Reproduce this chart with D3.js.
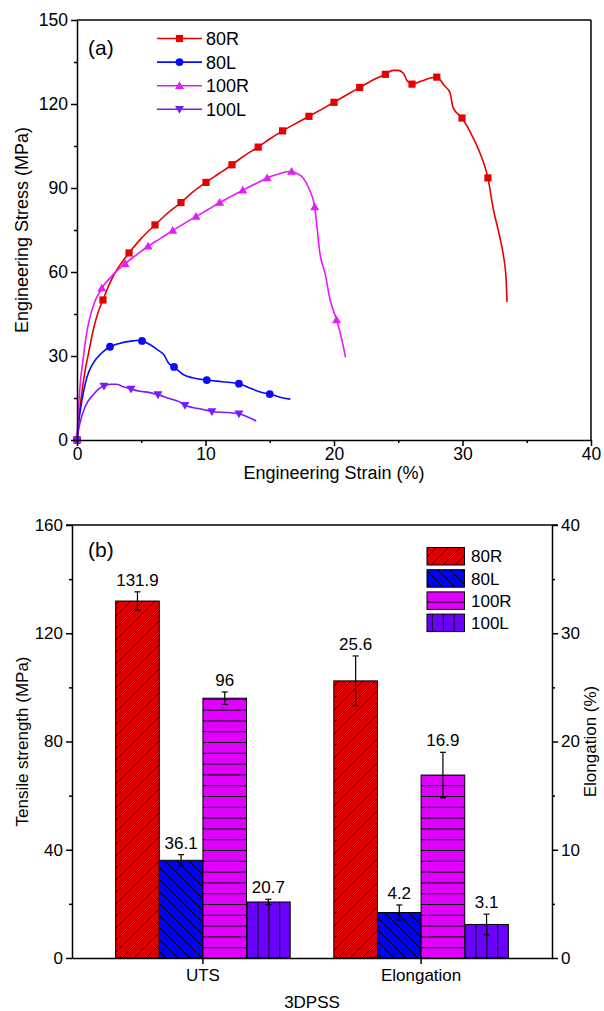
<!DOCTYPE html>
<html><head><meta charset="utf-8">
<script src="https://cdn.jsdelivr.net/npm/d3@7/dist/d3.min.js"></script>
<style>
body{margin:0;background:#fff;}
svg text{font-family:"Liberation Sans",Arial,Helvetica,sans-serif;fill:#000;}
</style></head>
<body>
<svg id="chart" width="604" height="1011"></svg>
<script>
// ---------- Data: panel (a) stress-strain curves [strain %, stress MPa] ----------
const seriesNames = ["80R", "80L", "100R", "100L"];
const curve80R = [[0,0],[0.15,8],[0.35,16],[0.6,24],[0.9,31],[1.25,39],[1.6,45],[2.02,50],[2.5,55.5],[3.0,60],[3.5,63.5],[4.05,66.8],[5.0,72],[6.07,76.8],[7.0,80.8],[8.09,84.8],[9.0,88.5],[10.04,92],[11.0,95],[12.06,98.3],[13.0,101.5],[14.1,104.6],[15.0,107.5],[16.0,110.4],[17.0,113],[18.05,115.6],[19.0,118],[20.0,120.6],[21.0,123.3],[22.0,125.9],[23.0,128.5],[24.0,130.6],[24.6,132],[25.0,132],[25.4,131],[25.7,128.2],[26.07,127.1],[26.8,128.2],[27.5,129.3],[28.0,129.6],[28.6,126.5],[29.03,124],[29.26,118.8],[29.96,115],[30.8,108.2],[31.36,102.5],[31.98,93.6],[32.37,83.2],[32.9,72.5],[33.15,66.8],[33.4,57],[33.46,49.3]];
const markers80R = [[0,0],[2.02,50],[4.05,66.8],[6.07,76.8],[8.09,84.8],[10.04,92],[12.06,98.3],[14.1,104.6],[16.0,110.4],[18.05,115.6],[20.0,120.6],[22.0,125.9],[24.0,130.6],[26.07,127.1],[28.0,129.6],[29.96,115],[31.98,93.6]];
const curve80L = [[0,0],[0.15,7],[0.39,14.3],[0.78,22.5],[1.25,27.4],[1.9,31],[2.57,33.3],[3.3,34.5],[4.2,35.3],[4.9,35.6],[5.06,35.4],[5.7,34],[6.3,32.1],[6.8,30.2],[7.1,27.6],[7.55,26.1],[8.25,23.4],[9.0,22.2],[10.1,21.4],[11.3,20.8],[12.6,20.1],[13.5,18.5],[14.2,17.2],[15.0,16.4],[15.8,15.3],[16.6,14.6]];
const markers80L = [[0,0],[2.57,33.3],[5.06,35.4],[7.55,26.1],[10.1,21.4],[12.6,20.1],[15.0,16.4]];
const curve100R = [[0,0],[0.1,10],[0.25,20],[0.45,28],[0.78,39],[1.2,47],[1.93,54.2],[2.8,59],[3.74,63],[4.6,66],[5.53,69.2],[6.5,72],[7.45,74.8],[8.3,77.2],[9.26,79.8],[10.2,82.3],[11.1,84.8],[12.0,87],[12.9,89.2],[13.9,91.5],[14.8,93.6],[15.7,95],[16.3,95.8],[16.7,95.9],[17.2,95],[17.6,93.6],[18.1,89.3],[18.5,83.2],[18.7,75],[18.9,66.8],[19.3,59.6],[19.7,50],[20.2,42.9],[20.6,36],[20.9,29.5]];
const markers100R = [[0,0],[1.93,54.2],[3.74,63],[5.53,69.2],[7.45,74.8],[9.26,79.8],[11.1,84.8],[12.9,89.2],[14.8,93.6],[16.7,95.9],[18.5,83.2],[20.2,42.9]];
const curve100L = [[0,0],[0.1,3],[0.23,6],[0.62,11.8],[1.25,16.1],[1.7,18.3],[2.1,19.3],[2.6,19.9],[3.1,19.9],[3.6,19],[4.2,18.2],[4.9,17.4],[5.6,17],[6.3,16.2],[7.2,14.8],[7.9,13.8],[8.4,12.4],[9.0,11.6],[9.7,11],[10.5,10.2],[11.7,9.8],[12.6,9.4],[13.2,8.4],[13.95,6.8]];
const markers100L = [[0,0],[2.1,19.3],[4.2,18.2],[6.3,16.2],[8.4,12.4],[10.5,10.2],[12.6,9.4]];
const strainTicks = [0,10,20,30,40];
const stressTicks = [0,30,60,90,120,150];

// ---------- Data: panel (b) bars ----------
const categories = ["UTS", "Elongation"];
const utsValues = [131.9, 36.1, 96, 20.7];
const utsErrors = [3.4, 2.1, 2.3, 1.0];
const elongValues = [25.6, 4.2, 16.9, 3.1];
const elongErrors = [2.3, 0.7, 2.1, 0.95];
const strengthTicks = [0,40,80,120,160];
const elongTicks = [0,10,20,30,40];

// ---------- Styles ----------
const lineColors = {"80R":"#e60000","80L":"#0a0aff","100R":"#e619ff","100L":"#7a1aff"};
const barColors = {"80R":"#dd0000","80L":"#0000ff","100R":"#e000ff","100L":"#6c00ff"};

const svg = d3.select("#chart");

// ====================== PANEL (a) ======================
const ax = {l:77, r:591, t:20, b:440};
const xA = d3.scaleLinear().domain([0,40]).range([ax.l, ax.r]);
const yA = d3.scaleLinear().domain([0,150]).range([ax.b, ax.t]);
const gA = svg.append("g");

const curves = [
  {name:"80R", curve:curve80R, markers:markers80R},
  {name:"80L", curve:curve80L, markers:markers80L},
  {name:"100R", curve:curve100R, markers:markers100R},
  {name:"100L", curve:curve100L, markers:markers100L}
];
const lineGen = d3.line().x(d=>xA(d[0])).y(d=>yA(d[1])).curve(d3.curveMonotoneX);

function drawMarker(g, name, x, y){
  const c = lineColors[name];
  if (name === "80R") {
    g.append("rect").attr("x",x-3.6).attr("y",y-3.6).attr("width",7.2).attr("height",7.2).attr("fill",c);
  } else if (name === "80L") {
    g.append("circle").attr("cx",x).attr("cy",y).attr("r",3.9).attr("fill",c);
  } else if (name === "100R") {
    g.append("path").attr("d",`M${x},${y-4.5}L${x+4.5},${y+3.3}L${x-4.5},${y+3.3}Z`).attr("fill",c);
  } else {
    g.append("path").attr("d",`M${x},${y+4.5}L${x+4.5},${y-3.3}L${x-4.5},${y-3.3}Z`).attr("fill",c);
  }
}

curves.forEach(s=>{
  gA.append("path").datum(s.curve).attr("d",lineGen).attr("fill","none")
    .attr("stroke",lineColors[s.name]).attr("stroke-width",1.6);
});
curves.forEach(s=>{
  const mg = gA.append("g");
  s.markers.forEach(p=>drawMarker(mg, s.name, xA(p[0]), yA(p[1])));
});

// axes
const axStyle = g => { g.selectAll("path,line").attr("stroke","#000").attr("stroke-width",1.5); g.selectAll("text").attr("font-size",17.5).attr("font-family","'Liberation Sans',Arial,sans-serif"); };
gA.append("g").attr("transform",`translate(0,${ax.b})`)
  .call(d3.axisBottom(xA).tickValues(strainTicks).tickSize(6).tickSizeOuter(0).tickPadding(2).tickFormat(d3.format("d"))).call(axStyle);
gA.append("g").attr("transform",`translate(0,${ax.b})`)
  .call(d3.axisBottom(xA).tickValues([5,15,25,35]).tickSize(3).tickSizeOuter(0).tickFormat("")).call(axStyle)
  .select(".domain").remove();
gA.append("g").attr("transform",`translate(${ax.l},0)`)
  .call(d3.axisLeft(yA).tickValues(stressTicks).tickSize(6).tickSizeOuter(0).tickPadding(3).tickFormat(d3.format("d"))).call(axStyle);
gA.append("g").attr("transform",`translate(${ax.l},0)`)
  .call(d3.axisLeft(yA).tickValues([15,45,75,105,135]).tickSize(3).tickSizeOuter(0).tickFormat("")).call(axStyle)
  .select(".domain").remove();
// frame top/right
gA.append("line").attr("x1",ax.l).attr("x2",ax.r).attr("y1",ax.t).attr("y2",ax.t).attr("stroke","#000").attr("stroke-width",1.5);
gA.append("line").attr("x1",ax.r).attr("x2",ax.r).attr("y1",ax.t).attr("y2",ax.b).attr("stroke","#000").attr("stroke-width",1.5);

gA.append("text").attr("x",(ax.l+ax.r)/2).attr("y",479).attr("text-anchor","middle").attr("font-size",18).text("Engineering Strain (%)");
gA.append("text").attr("transform",`translate(28,${(ax.t+ax.b)/2}) rotate(-90)`).attr("text-anchor","middle").attr("font-size",18).text("Engineering Stress (MPa)");
gA.append("text").attr("x",88).attr("y",55).attr("font-size",21).text("(a)");

// legend (a)
const legA = gA.append("g");
seriesNames.forEach((n,i)=>{
  const y = 38.5 + i*23.6;
  legA.append("line").attr("x1",157).attr("x2",202).attr("y1",y).attr("y2",y).attr("stroke",lineColors[n]).attr("stroke-width",1.6);
  drawMarker(legA, n, 179.5, y);
  legA.append("text").attr("x",206).attr("y",y).attr("dy","0.36em").attr("font-size",18).text(n);
});

// ====================== PANEL (b) ======================
const bx = {l:72, r:552, t:525, b:958};
const xB = d3.scaleBand().domain(categories).range([bx.l,bx.r]).paddingInner(0.2).paddingOuter(0.2);
const xSub = d3.scaleBand().domain(seriesNames).range([0,xB.bandwidth()]);
const yB = d3.scaleLinear().domain([0,160]).range([bx.b,bx.t]);
const yB2 = d3.scaleLinear().domain([0,40]).range([bx.b,bx.t]);
const gB = svg.append("g");

// patterns
const defs = svg.append("defs");
function pat(id, color, size, pathD){
  const p = defs.append("pattern").attr("id",id).attr("patternUnits","userSpaceOnUse").attr("width",size).attr("height",size);
  p.append("rect").attr("width",size).attr("height",size).attr("fill",color);
  p.append("path").attr("d",pathD).attr("stroke","#000").attr("stroke-width",1).attr("fill","none");
}
const s1 = 12;
pat("p80R", barColors["80R"], s1, `M0,${s1}L${s1},0M${-s1/4},${s1/4}L${s1/4},${-s1/4}M${s1*0.75},${s1*1.25}L${s1*1.25},${s1*0.75}`);
pat("p80L", barColors["80L"], s1, `M0,0L${s1},${s1}M${-s1/4},${s1*0.75}L${s1/4},${s1*1.25}M${s1*0.75},${-s1/4}L${s1*1.25},${s1/4}`);
defs.append("pattern").attr("id","p100R").attr("patternUnits","userSpaceOnUse").attr("width",10).attr("height",10.8).attr("y",bx.b)
  .call(p=>{p.append("rect").attr("width",10).attr("height",10.8).attr("fill",barColors["100R"]);
            p.append("line").attr("x1",0).attr("x2",10).attr("y1",0.5).attr("y2",0.5).attr("stroke","#000").attr("stroke-width",1);});
defs.append("pattern").attr("id","p100L").attr("patternUnits","userSpaceOnUse").attr("width",10.9).attr("height",10).attr("x",xB("UTS")+xSub("100L"))
  .call(p=>{p.append("rect").attr("width",10.9).attr("height",10).attr("fill",barColors["100L"]);
            p.append("line").attr("x1",0.5).attr("x2",0.5).attr("y1",0).attr("y2",10).attr("stroke","#000").attr("stroke-width",1);});
const fills = {"80R":"url(#p80R)","80L":"url(#p80L)","100R":"url(#p100R)","100L":"url(#p100L)"};

const barData = [];
seriesNames.forEach((n,i)=>{
  barData.push({cat:"UTS", name:n, v:utsValues[i], e:utsErrors[i], y:yB, label:String(utsValues[i])});
  barData.push({cat:"Elongation", name:n, v:elongValues[i], e:elongErrors[i], y:yB2, label:String(elongValues[i])});
});

const bars = gB.append("g");
barData.forEach(d=>{
  const x0 = xB(d.cat)+xSub(d.name), w = xSub.bandwidth();
  bars.append("rect").attr("x",x0).attr("y",d.y(d.v)).attr("width",w).attr("height",bx.b-d.y(d.v))
    .attr("fill",fills[d.name]).attr("stroke","#000").attr("stroke-width",1);
  const cx = x0+w/2, yt = d.y(d.v+d.e), yb = d.y(d.v-d.e);
  bars.append("line").attr("x1",cx).attr("x2",cx).attr("y1",yt).attr("y2",yb).attr("stroke","#000").attr("stroke-width",1.2);
  bars.append("line").attr("x1",cx-3).attr("x2",cx+3).attr("y1",yt).attr("y2",yt).attr("stroke","#000").attr("stroke-width",1.2);
  bars.append("line").attr("x1",cx-3).attr("x2",cx+3).attr("y1",yb).attr("y2",yb).attr("stroke","#000").attr("stroke-width",1.2);
  bars.append("text").attr("x",cx).attr("y",yt-6).attr("text-anchor","middle").attr("font-size",17).text(d.label);
});

const axStyleB = g => { g.selectAll("path,line").attr("stroke","#000").attr("stroke-width",1.5); g.selectAll("text").attr("font-size",17).attr("font-family","'Liberation Sans',Arial,sans-serif"); };
gB.append("g").attr("transform",`translate(0,${bx.b})`)
  .call(d3.axisBottom(xB).tickSize(6).tickSizeOuter(0).tickPadding(5)).call(axStyleB);
gB.append("g").attr("transform",`translate(${bx.l},0)`)
  .call(d3.axisLeft(yB).tickValues(strengthTicks).tickSize(6).tickSizeOuter(0).tickPadding(3)).call(axStyleB);
gB.append("g").attr("transform",`translate(${bx.l},0)`)
  .call(d3.axisLeft(yB).tickValues([20,60,100,140]).tickSize(3).tickSizeOuter(0).tickFormat("")).call(axStyleB).select(".domain").remove();
gB.append("g").attr("transform",`translate(${bx.r},0)`)
  .call(d3.axisRight(yB2).tickValues(elongTicks).tickSize(6).tickSizeOuter(0).tickPadding(3)).call(axStyleB);
gB.append("g").attr("transform",`translate(${bx.r},0)`)
  .call(d3.axisRight(yB2).tickValues([5,15,25,35]).tickSize(3).tickSizeOuter(0).tickFormat("")).call(axStyleB).select(".domain").remove();
gB.append("line").attr("x1",bx.l-6).attr("x2",bx.r+6).attr("y1",bx.t).attr("y2",bx.t).attr("stroke","#000").attr("stroke-width",1.5);

gB.append("text").attr("x",(bx.l+bx.r)/2).attr("y",1008).attr("text-anchor","middle").attr("font-size",17).text("3DPSS");
gB.append("text").attr("transform",`translate(28,${(bx.t+bx.b)/2}) rotate(-90)`).attr("text-anchor","middle").attr("font-size",17).text("Tensile strength (MPa)");
gB.append("text").attr("transform",`translate(596,${(bx.t+bx.b)/2}) rotate(-90)`).attr("text-anchor","middle").attr("font-size",17).text("Elongation (%)");
gB.append("text").attr("x",88).attr("y",557).attr("font-size",21).text("(b)");

// legend (b)
const legB = gB.append("g");
seriesNames.forEach((n,i)=>{
  const y = 547.5 + i*22.2;
  legB.append("rect").attr("x",427).attr("y",y).attr("width",37.5).attr("height",17.5)
    .attr("fill",fills[n]).attr("stroke","#000").attr("stroke-width",1);
  legB.append("text").attr("x",471).attr("y",y+8.8).attr("dy","0.36em").attr("font-size",17).text(n);
});
</script>
</body></html>
